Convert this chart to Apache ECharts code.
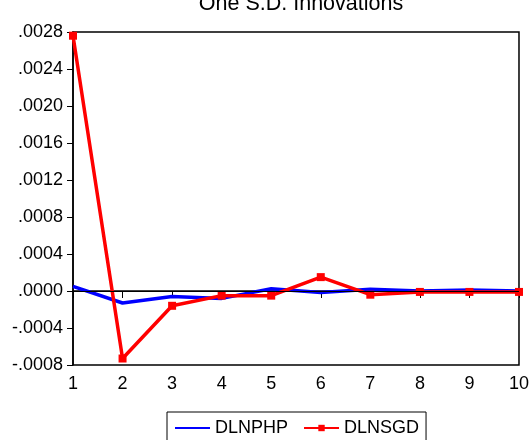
<!DOCTYPE html>
<html><head><meta charset="utf-8">
<script src="https://cdn.jsdelivr.net/npm/echarts@6/dist/echarts.min.js"></script>
<style>html,body{margin:0;padding:0;background:#fff}#c{width:532px;height:440px}</style>
</head><body><div id="c"></div>
<script>
var periods = [1,2,3,4,5,6,7,8,9,10];
var dlnphp = [0.00005,-0.00013,-0.00006,-0.00008,0.000025,-0.000015,0.00002,0.0,0.00001,0.0];
var dlnsgd = [0.00276,-0.00073,-0.00016,-0.00005,-0.00005,0.00015,-0.00004,-0.00001,-0.00001,-0.00001];
var yTicks = {min:-0.0008, max:0.0028, step:0.0004};
var title = "One S.D. Innovations";

function pairs(v){return periods.map(function(p,i){return [p,v[i]];});}
var font = "Liberation Sans, Arial, sans-serif";
var chart = echarts.init(document.getElementById('c'));
chart.setOption({
  animation:false,
  title:{text:title,left:296,textAlign:'center',top:-12,textStyle:{fontFamily:font,fontSize:21.5,fontWeight:'normal',color:'#000'}},
  grid:{left:73,right:13,top:32,bottom:75,show:true,borderColor:'#000',borderWidth:1.5,backgroundColor:'#fff'},
  xAxis:{type:'value',min:1,max:10,interval:1,
    axisLine:{show:true,lineStyle:{color:'#000',width:1.5}},
    axisTick:{show:true,length:7,lineStyle:{color:'#000'}},
    axisLabel:{color:'#000',fontFamily:font,fontSize:18,margin:10},
    splitLine:{show:false}},
  yAxis:{type:'value',min:yTicks.min,max:yTicks.max,interval:yTicks.step,
    axisLine:{show:true,lineStyle:{color:'#000',width:1.5}},
    axisTick:{show:true,length:6,lineStyle:{color:'#000'}},
    axisLabel:{color:'#000',fontFamily:font,fontSize:18,margin:10,
      formatter:function(v){var s=(Math.round(v*1e4)/1e4).toFixed(4);return s.replace('0.','.');}},
    splitLine:{show:false}},
  legend:{top:412,left:167,itemGap:15,itemWidth:35,itemHeight:8,
    borderColor:'#000',borderWidth:1,padding:[7,7,14,7],
    textStyle:{fontFamily:font,fontSize:18,color:'#000'},
    data:['DLNPHP','DLNSGD']},
  series:[
    {name:'DLNPHP',type:'line',data:pairs(dlnphp),symbol:'circle',showSymbol:false,
     lineStyle:{color:'#0000ff',width:3.5},itemStyle:{color:'#0000ff',opacity:0},
     markLine:{silent:true,symbol:'none',label:{show:false},lineStyle:{color:'#000',width:1,type:'solid'},data:[{yAxis:0}]},
     z:2},
    {name:'DLNSGD',type:'line',data:pairs(dlnsgd),symbol:'rect',symbolSize:8,
     lineStyle:{color:'#ff0000',width:3.5},itemStyle:{color:'#ff0000'},z:3}
  ]
});
</script></body></html>
